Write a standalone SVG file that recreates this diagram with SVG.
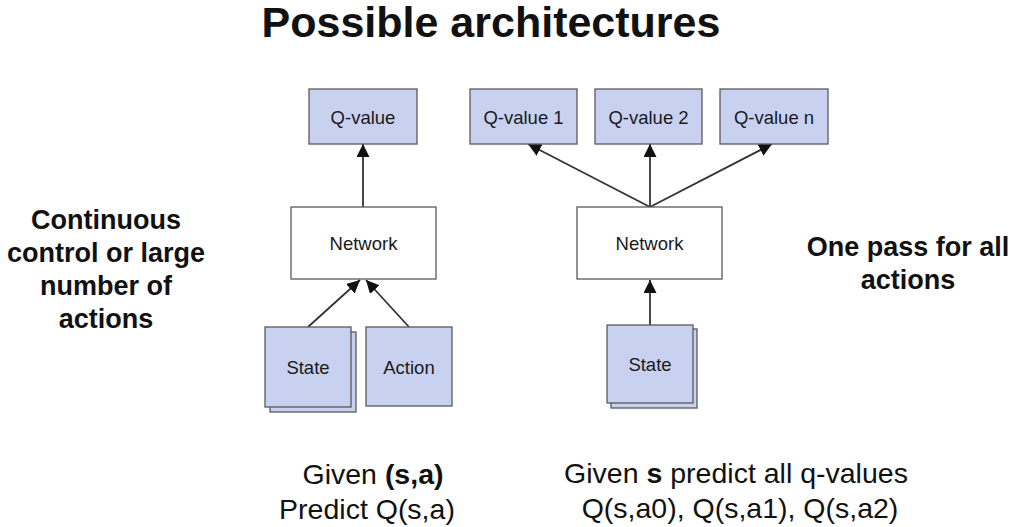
<svg xmlns="http://www.w3.org/2000/svg" width="1020" height="527" viewBox="0 0 1020 527">
<style>
.box{fill:#c9d1f1;stroke:#5a5a5a;stroke-width:1.3}
.net{fill:#ffffff;stroke:#5a5a5a;stroke-width:1.3}
.lbl{font-family:"Liberation Sans",Arial,sans-serif;font-size:18.5px;fill:#1a1a1a;text-anchor:middle}
.big{font-family:"Liberation Sans",Arial,sans-serif;font-size:27px;font-weight:bold;fill:#111;text-anchor:middle}
.cap{font-family:"Liberation Sans",Arial,sans-serif;font-size:28.5px;fill:#111;text-anchor:middle}
.conn{stroke:#333;stroke-width:1.8;fill:none;marker-end:url(#ah)}
</style>
<defs>
<marker id="ah" viewBox="0 0 13 13" refX="13" refY="6.5" markerWidth="13" markerHeight="13" markerUnits="userSpaceOnUse" orient="auto">
<path d="M0,0 L13,6.5 L0,13 z" fill="#111"/>
</marker>
</defs>
<rect width="1020" height="527" fill="#ffffff"/>
<text x="491" y="37" font-family="Liberation Sans,Arial,sans-serif" font-size="43" font-weight="bold" text-anchor="middle" fill="#111">Possible architectures</text>
<g id="left-note">
<text class="big" x="106" y="229">Continuous</text>
<text class="big" x="106" y="262">control or large</text>
<text class="big" x="106" y="295">number of</text>
<text class="big" x="106" y="328">actions</text>
</g>
<g id="right-note">
<text class="big" x="908" y="256">One pass for all</text>
<text class="big" x="908" y="289">actions</text>
</g>
<g id="connectors">
<line class="conn" x1="363" y1="207" x2="363" y2="144"/>
<line class="conn" x1="308" y1="327" x2="360" y2="280"/>
<line class="conn" x1="409" y1="327" x2="366" y2="280"/>
<line class="conn" x1="650" y1="207" x2="528" y2="144"/>
<line class="conn" x1="650" y1="207" x2="650" y2="144"/>
<line class="conn" x1="650" y1="207" x2="772" y2="144"/>
<line class="conn" x1="650" y1="325" x2="650" y2="280"/>
</g>
<g id="qvalue">
<rect class="box" x="309" y="89" width="108" height="55"/>
<text class="lbl" x="363" y="123.5">Q-value</text>
</g>
<g id="network-left">
<rect class="net" x="291" y="207" width="145" height="72"/>
<text class="lbl" x="363.5" y="249.5">Network</text>
</g>
<g id="state-left">
<rect class="box" x="270" y="332" width="86" height="80"/>
<rect class="box" x="265" y="327" width="86" height="80"/>
<text class="lbl" x="308" y="373.5">State</text>
</g>
<g id="action">
<rect class="box" x="366" y="327" width="86" height="79"/>
<text class="lbl" x="409" y="373.5">Action</text>
</g>
<g id="qvalue1">
<rect class="box" x="470" y="89" width="107" height="55"/>
<text class="lbl" x="523.5" y="123.5">Q-value 1</text>
</g>
<g id="qvalue2">
<rect class="box" x="595" y="89" width="107" height="55"/>
<text class="lbl" x="648.5" y="123.5">Q-value 2</text>
</g>
<g id="qvaluen">
<rect class="box" x="720" y="89" width="108" height="55"/>
<text class="lbl" x="774" y="123.5">Q-value n</text>
</g>
<g id="network-right">
<rect class="net" x="577" y="207" width="145" height="72"/>
<text class="lbl" x="649.5" y="249.5">Network</text>
</g>
<g id="state-right">
<rect class="box" x="611" y="329" width="86" height="79"/>
<rect class="box" x="607" y="325" width="86" height="78"/>
<text class="lbl" x="650" y="370.5">State</text>
</g>
<g id="captions">
<text class="cap" x="373" y="484">Given <tspan font-weight="bold">(s,a)</tspan></text>
<text class="cap" x="367" y="519">Predict Q(s,a)</text>
<text class="cap" x="736" y="483">Given <tspan font-weight="bold">s</tspan> predict all q-values</text>
<text class="cap" x="740" y="518">Q(s,a0), Q(s,a1), Q(s,a2)</text>
</g>
</svg>
